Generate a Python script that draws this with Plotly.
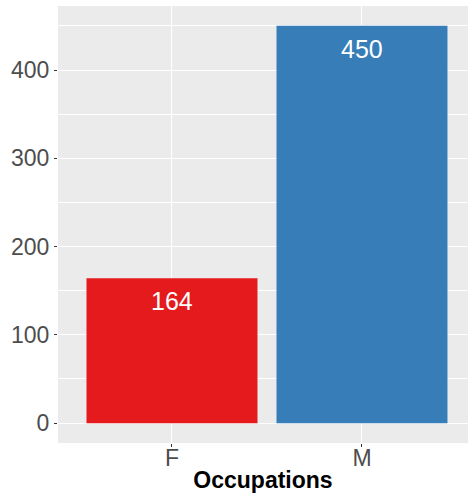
import plotly.graph_objects as go

categories = ["F", "M"]
counts = [164, 450]
bar_colors = ["#E41A1C", "#377EB8"]

fig = go.Figure()
fig.add_trace(go.Bar(x=categories, y=counts, marker=dict(color=bar_colors, line=dict(width=0)),
                     width=0.9, showlegend=False, hoverinfo="skip"))

# value labels just below the top of each bar
for c, v in zip(categories, counts):
    fig.add_annotation(x=c, y=v, text=str(v), showarrow=False, yanchor="top", yshift=-7,
                       font=dict(family="Liberation Sans", size=25, color="white"))

fig.update_layout(
    width=468, height=494,
    margin=dict(l=58, r=0, t=6, b=51),
    paper_bgcolor="white", plot_bgcolor="#EBEBEB",
    font=dict(family="Liberation Sans"),
    xaxis=dict(range=[-0.6, 1.558], showgrid=True, gridcolor="white", gridwidth=1.2,
               ticks="outside", ticklen=3, tickcolor="#333333", tickwidth=1,
               tickfont=dict(size=23, color="#4D4D4D"), zeroline=False, showline=False,
               automargin=False, ticklabelstandoff=-9,
               title=dict(text="<b>Occupations</b>", font=dict(size=23, color="black"), standoff=2)),
    yaxis=dict(range=[-22.5, 472.5], tickvals=[0, 100, 200, 300, 400], showgrid=True,
               gridcolor="white", gridwidth=1.2, zeroline=False, showline=False,
               ticks="outside", ticklen=3, tickcolor="#333333", tickwidth=1,
               tickfont=dict(size=23, color="#4D4D4D"), automargin=False,
               minor=dict(tickvals=[50, 150, 250, 350, 450], showgrid=True, gridcolor="white",
                          gridwidth=0.6, ticks="")),
)

fig.write_html("out.html", config={"displayModeBar": False},
               post_script="document.body.style.margin='0';")
